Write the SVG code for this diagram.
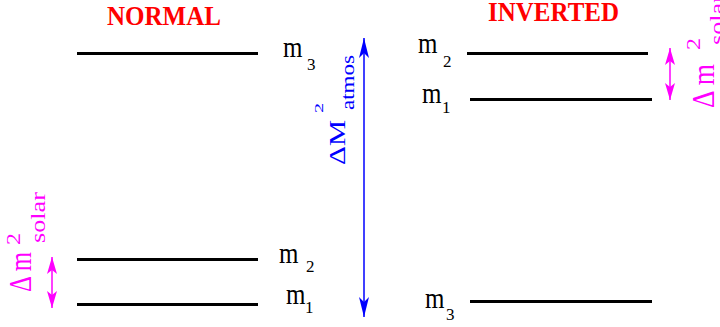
<svg xmlns="http://www.w3.org/2000/svg" width="720" height="327" viewBox="0 0 720 327">
<defs>
<marker id="ab" markerUnits="userSpaceOnUse" markerWidth="20" markerHeight="10" viewBox="0 0 20 10" refX="20" refY="5" orient="auto-start-reverse"><path d="M0,0 L20,5 L0,10 L5,5 Z" fill="#0000FF"/></marker>
<marker id="am" markerUnits="userSpaceOnUse" markerWidth="17" markerHeight="10" viewBox="0 0 17 10" refX="17" refY="5" orient="auto-start-reverse"><path d="M0,0 L17,5 L0,10 L4,5 Z" fill="#FF00FF"/></marker>
</defs>
<style>
.lvl{stroke:#000;stroke-width:3;fill:none}
.t{font-family:"Liberation Serif","Times New Roman",serif;font-weight:bold;fill:#FF0000}
.m{font-family:"Liberation Serif","Times New Roman",serif;font-size:25px;fill:#000}
.s{font-family:"Liberation Serif","Times New Roman",serif;font-size:17px;fill:#000}
.mg{font-family:"Liberation Serif","Times New Roman",serif;fill:#FF00FF}
.bl{font-family:"Liberation Serif","Times New Roman",serif;fill:#0000FF}
</style>
<rect width="720" height="327" fill="#fff"/>
<g id="title-normal"><text class="t" transform="translate(107,25) scale(1,1.1)" font-size="25" textLength="114" lengthAdjust="spacingAndGlyphs">NORMAL</text></g>
<g id="title-inverted"><text class="t" transform="translate(488,21) scale(1,1.05)" font-size="25" textLength="131" lengthAdjust="spacingAndGlyphs">INVERTED</text></g>

<g id="normal-m3"><line class="lvl" x1="77" y1="53.5" x2="258" y2="53.5"/><text class="m" transform="translate(283,57) scale(1,1.15)">m</text><text class="s" x="307" y="70">3</text></g>
<g id="normal-m2"><line class="lvl" x1="77" y1="259.5" x2="258" y2="259.5"/><text class="m" transform="translate(279,263) scale(1,1.15)">m</text><text class="s" x="306" y="272">2</text></g>
<g id="normal-m1"><line class="lvl" x1="77" y1="304.5" x2="258" y2="304.5"/><text class="m" transform="translate(286,304) scale(1,1.15)">m</text><text class="s" x="305" y="313">1</text></g>
<g id="inverted-m2"><line class="lvl" x1="467" y1="53.5" x2="648" y2="53.5"/><text class="m" transform="translate(418,53) scale(1,1.15)">m</text><text class="s" x="443" y="67">2</text></g>
<g id="inverted-m1"><line class="lvl" x1="470" y1="99.5" x2="652" y2="99.5"/><text class="m" transform="translate(422,103) scale(1,1.15)">m</text><text class="s" x="442" y="113">1</text></g>
<g id="inverted-m3"><line class="lvl" x1="470" y1="301.5" x2="652" y2="301.5"/><text class="m" transform="translate(425,308) scale(1,1.15)">m</text><text class="s" x="446" y="320">3</text></g>

<g id="connectors">
<line x1="364" y1="317" x2="364" y2="38" stroke="#0000FF" stroke-width="1.5" marker-start="url(#ab)" marker-end="url(#ab)"/>
<line x1="52" y1="257" x2="52" y2="308" stroke="#FF00FF" stroke-width="1.5" marker-start="url(#am)" marker-end="url(#am)"/>
<line x1="670" y1="48" x2="670" y2="100" stroke="#FF00FF" stroke-width="1.5" marker-start="url(#am)" marker-end="url(#am)"/>
</g>

<g id="label-atmos" transform="translate(345,165) rotate(-90)">
<text class="bl" font-size="23" x="0" y="0" textLength="45" lengthAdjust="spacingAndGlyphs">ΔM</text>
<text class="bl" font-size="13" x="52" y="-22" textLength="10" lengthAdjust="spacingAndGlyphs">2</text>
<text class="bl" font-size="18" x="55" y="9" textLength="55" lengthAdjust="spacingAndGlyphs">atmos</text>
</g>

<g id="label-solar-normal" transform="translate(31,292) rotate(-90)">
<g transform="scale(1,1.4)"><text class="mg" font-size="23" x="0" y="0" textLength="40" lengthAdjust="spacingAndGlyphs">Δ m</text></g>
<text class="mg" font-size="18" x="47" y="-11" textLength="12" lengthAdjust="spacingAndGlyphs">2</text>
<text class="mg" font-size="21" x="49" y="14" textLength="51" lengthAdjust="spacingAndGlyphs">solar</text>
</g>

<g id="label-solar-inverted" transform="translate(714,108) rotate(-90)">
<g transform="scale(1,1.4)"><text class="mg" font-size="23" x="0" y="0" textLength="44" lengthAdjust="spacingAndGlyphs">Δ m</text></g>
<text class="mg" font-size="18" x="58" y="-14" textLength="12" lengthAdjust="spacingAndGlyphs">2</text>
<text class="mg" font-size="21" x="63" y="10" textLength="51" lengthAdjust="spacingAndGlyphs">solar</text>
</g>
</svg>
